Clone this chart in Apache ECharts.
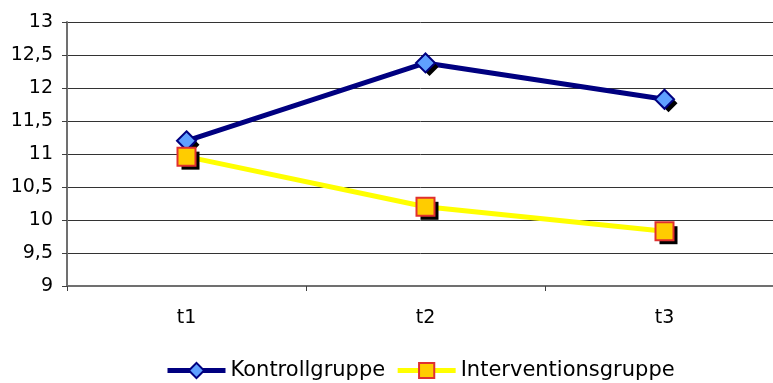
<!DOCTYPE html>
<html>
<head>
<meta charset="utf-8">
<script src="https://cdn.jsdelivr.net/npm/echarts@6/dist/echarts.min.js"></script>
<style>
html, body { margin: 0; padding: 0; background: #fff; }
#box1 { width: 773px; height: 383px; }
</style>
</head>
<body>
<div id="box1"></div>
<script>
var categories = ['t1', 't2', 't3'];
var kontroll = [11.2, 12.38, 11.83];
var intervention = [10.96, 10.2, 9.83];

var dom = document.getElementById("box1");
var myChart = echarts.init(dom);

var font = 'Verdana, "DejaVu Sans", sans-serif';

// black drop shadow under each marker, drawn as its own series
function shadowSeries(name, data, symbol) {
    return {
        name: name,
        type: 'line',
        data: data,
        symbol: symbol,
        symbolSize: 18,
        symbolOffset: [4, 4],
        silent: true,
        lineStyle: { opacity: 0, width: 0 },
        itemStyle: { color: '#000', borderWidth: 0 }
    };
}

option = {
    backgroundColor: '#fff',
    animation: false,
    textStyle: { fontFamily: font },
    grid: {
        left: 67,
        top: 22,
        bottom: 97,
        right: -11,
        outerBoundsMode: 'none',
        containLabel: false
    },
    legend: {
        left: 165,
        top: 360,
        padding: 0,
        itemWidth: 58,
        itemHeight: 19,
        itemGap: 10,
        textStyle: { fontFamily: font, fontSize: 21, color: '#000' },
        lineStyle: { width: 5 },
        data: ['Kontrollgruppe', 'Interventionsgruppe']
    },
    xAxis: {
        type: 'category',
        data: categories,
        boundaryGap: true,
        axisLine: { lineStyle: { color: '#707070', width: 2 } },
        axisTick: { show: true, length: 5, lineStyle: { color: '#404040' } },
        axisLabel: { fontFamily: font, fontSize: 19, color: '#000', margin: 23 }
    },
    yAxis: {
        type: 'value',
        min: 9,
        max: 13,
        interval: 0.5,
        axisLine: { show: true, lineStyle: { color: '#707070', width: 2 } },
        axisTick: { show: true, length: 5, lineStyle: { color: '#404040' } },
        axisLabel: {
            fontFamily: font, fontSize: 19, color: '#000', margin: 14,
            formatter: function (v) { return String(v).replace('.', ','); }
        },
        splitLine: { lineStyle: { color: '#333', width: 1 } }
    },
    series: [
        shadowSeries('k_shadow', kontroll, 'diamond'),
        {
            name: 'Kontrollgruppe',
            type: 'line',
            data: kontroll,
            symbol: 'diamond',
            symbolSize: 19,
            lineStyle: { color: '#000080', width: 5 },
            itemStyle: { color: '#5fa0ff', borderColor: '#000080', borderWidth: 2 }
        },
        shadowSeries('i_shadow', intervention, 'rect'),
        {
            name: 'Interventionsgruppe',
            type: 'line',
            data: intervention,
            symbol: 'rect',
            symbolSize: 18,
            lineStyle: { color: '#ffff00', width: 5 },
            itemStyle: { color: '#ffcc00', borderColor: '#e0302f', borderWidth: 2 }
        }
    ]
};
if (option && typeof option === "object") {
    myChart.setOption(option, true);
}
</script>
</body>
</html>
